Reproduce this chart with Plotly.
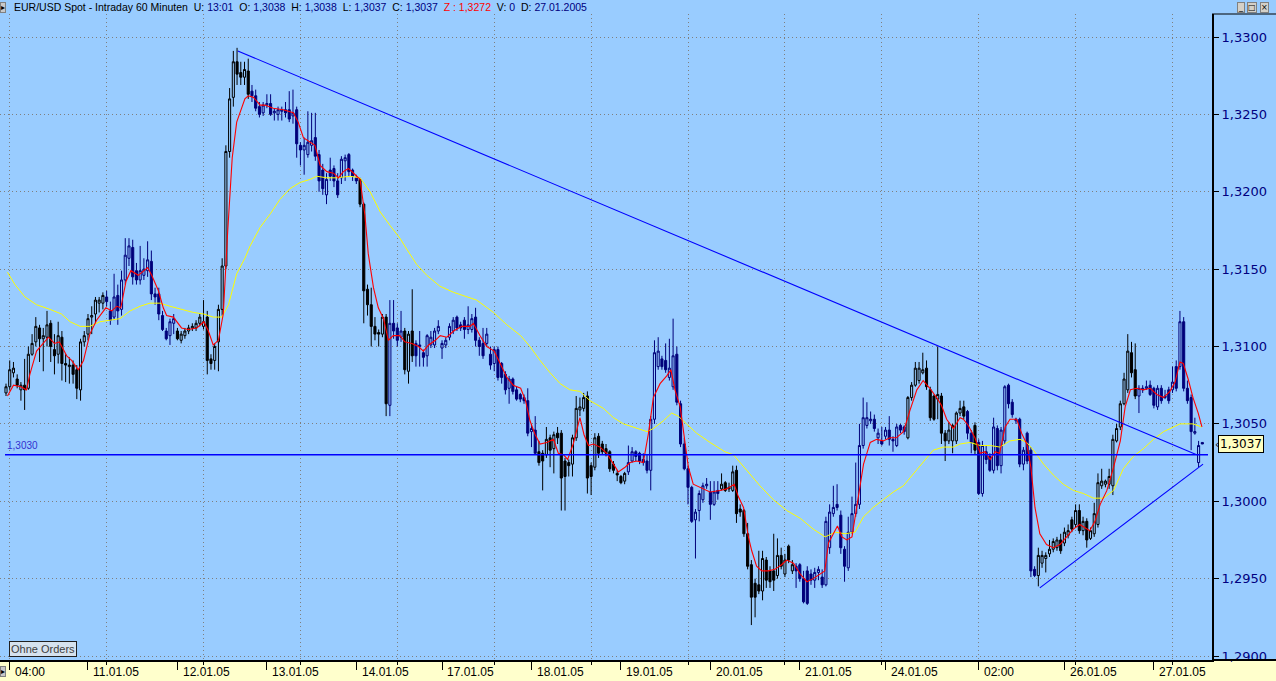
import plotly.graph_objects as go

# ---------------- DATA (prices in 1/10000, i.e. 13070 = 1.3070) ----------------
opens = [13070,13074,13083,13079,13072,13075,13073,13095,13103,13112,13105,13106,13115,13098,13095,13106,13089,13087,13088,13085,
13072,13103,13108,13119,13121,13128,13128,13132,13123,13119,13133,13124,13143,13157,13164,13149,13143,13146,13149,13155,
13134,13134,13120,13110,13107,13115,13110,13104,13107,13110,13112,13112,13115,13113,13119,13092,13091,13103,13124,13152,
13226,13261,13284,13277,13274,13278,13265,13262,13255,13251,13256,13257,13251,13250,13252,13253,13253,13249,13253,13230,
13227,13224,13230,13235,13224,13214,13198,13214,13215,13207,13209,13220,13224,13214,13209,13208,13192,13137,13127,13113,
13109,13108,13119,13062,13115,13112,13106,13110,13084,13110,13102,13100,13096,13094,13101,13101,13110,13099,13101,13106,
13110,13119,13114,13117,13111,13111,13119,13104,13102,13102,13095,13089,13098,13089,13082,13073,13079,13072,13069,13067,
13065,13045,13046,13032,13031,13030,13041,13034,13044,13044,13026,13025,13024,13041,13059,13060,13068,13023,13022,13042,
13037,13034,13032,13024,13018,13016,13013,13019,13026,13032,13031,13027,13026,13020,13053,13087,13092,13091,13080,13074,
13095,13063,13037,13021,13009,12988,12994,13001,13010,13006,12998,13007,13008,13012,13008,13007,13020,12995,12994,12979,
12959,12947,12946,12942,12962,12955,12955,12952,12965,12953,12971,12955,12958,12959,12950,12955,12953,12949,12954,12951,
12946,12970,12992,12998,12991,12969,12957,12980,12992,12998,13036,13049,13052,13053,13041,13039,13042,13046,13040,13036,
13049,13048,13041,13067,13075,13078,13083,13086,13072,13068,13066,13068,13044,13039,13039,13039,13057,13061,13058,13044,
13049,13038,13005,13032,13029,13020,13047,13023,13039,13075,13064,13052,13053,13024,13044,13033,12956,12952,12960,12963,
12966,12969,12970,12975,12973,12978,12988,12985,12994,12981,12987,12976,12979,12985,13010,13011,13011,13010,13039,13048,
13063,13072,13096,13085,13068,13072,13073,13075,13073,13061,13073,13067,13072,13072,13087,13087,13116,13073,13067,13044,
13025,13038]
highs = [13076,13091,13090,13082,13077,13092,13100,13108,13119,13114,13112,13123,13117,13108,13116,13110,13095,13093,13091,13088,
13105,13110,13121,13126,13132,13132,13135,13136,13129,13147,13140,13149,13170,13170,13169,13154,13165,13157,13168,13162,
13138,13138,13123,13112,13118,13121,13112,13110,13112,13114,13115,13117,13121,13130,13123,13095,13102,13127,13157,13230,
13267,13291,13293,13284,13284,13286,13269,13266,13258,13258,13263,13263,13254,13255,13255,13258,13265,13266,13255,13232,
13235,13252,13251,13251,13227,13218,13212,13222,13217,13212,13223,13224,13225,13215,13211,13209,13193,13140,13138,13119,
13111,13121,13121,13130,13130,13115,13123,13112,13110,13137,13104,13110,13098,13108,13110,13112,13117,13104,13106,13115,
13119,13120,13116,13119,13126,13121,13125,13106,13112,13112,13100,13100,13100,13090,13084,13081,13080,13074,13070,13069,
13073,13050,13055,13039,13033,13048,13043,13045,13048,13046,13028,13027,13043,13068,13067,13070,13071,13025,13044,13044,
13039,13037,13033,13026,13020,13017,13019,13036,13035,13033,13032,13031,13030,13055,13104,13106,13094,13102,13105,13118,
13100,13065,13041,13023,13010,12995,13007,13012,13015,13013,13013,13013,13018,13013,13012,13023,13023,12998,12995,12986,
12962,12950,12968,12968,12964,12958,12979,12976,12970,12966,12972,12962,12960,12960,12955,12958,12956,12957,12958,12956,
12990,12998,13010,13011,12994,12971,12990,13003,13025,13050,13067,13064,13058,13056,13047,13048,13048,13055,13042,13050,
13050,13049,13068,13077,13090,13090,13096,13091,13074,13069,13100,13070,13046,13051,13050,13058,13065,13065,13059,13046,
13051,13040,13039,13036,13031,13054,13049,13048,13075,13076,13066,13054,13054,13035,13045,13035,12958,12970,12968,12967,
12975,12976,12977,12979,12983,12985,12990,12998,12998,12990,12989,12983,12999,13018,13021,13014,13021,13043,13050,13065,
13083,13108,13103,13102,13075,13075,13078,13078,13074,13075,13075,13072,13074,13087,13091,13123,13119,13078,13069,13054,
13039,13038]
lows = [13068,13072,13080,13073,13065,13059,13072,13094,13100,13090,13084,13100,13090,13082,13089,13078,13077,13076,13076,13066,
13065,13100,13104,13108,13115,13122,13124,13126,13114,13117,13114,13120,13140,13152,13140,13140,13140,13143,13145,13130,
13127,13117,13110,13104,13101,13108,13104,13102,13105,13108,13110,13110,13113,13111,13082,13085,13085,13084,13120,13150,
13222,13255,13269,13269,13269,13260,13258,13252,13248,13249,13254,13249,13246,13246,13246,13248,13245,13244,13222,13217,
13211,13222,13226,13220,13200,13198,13192,13207,13203,13196,13205,13207,13210,13207,13205,13190,13115,13120,13100,13104,
13100,13106,13055,13055,13105,13100,13103,13082,13076,13090,13087,13087,13087,13087,13099,13099,13108,13092,13099,13104,
13108,13110,13110,13105,13108,13109,13100,13094,13092,13100,13085,13084,13078,13076,13069,13063,13069,13065,13064,13063,
13042,13035,13030,13023,13007,13028,13022,13018,13037,12994,12994,13016,13016,13039,13055,13058,13005,13004,13020,13028,
13030,13029,13019,13018,13013,13011,13011,13017,13025,13026,13024,13023,13018,13007,13050,13085,13085,13083,13078,13072,
13062,13035,13020,12998,12986,12963,12987,12999,13008,12988,12997,13001,13007,13006,13006,13006,12986,12990,12977,12956,
12920,12925,12940,12936,12944,12944,12942,12950,12956,12951,12960,12953,12944,12948,12934,12933,12946,12944,12949,12944,
12945,12966,12990,12994,12966,12948,12955,12979,12990,12995,13034,13047,13050,13045,13037,13036,13040,13036,13032,13035,
13044,13043,13040,13065,13074,13076,13082,13072,13052,13052,13053,13037,13026,13037,13031,13037,13055,13053,13040,13031,
13030,13004,13003,13024,13019,13018,13020,13018,13037,13060,13054,13050,13022,13020,13024,12951,12951,12945,12957,12954,
12964,12967,12968,12966,12971,12976,12980,12983,12979,12978,12970,12975,12977,12983,13008,13009,13008,13004,13038,13046,
13062,13070,13080,13066,13057,13070,13072,13068,13060,13059,13063,13066,13063,13070,13071,13085,13071,13063,13033,13043,
13022,13037]
closes = [13074,13085,13086,13075,13075,13072,13095,13102,13113,13105,13107,13114,13100,13094,13107,13089,13088,13088,13082,13073,
13103,13107,13118,13120,13130,13130,13133,13129,13117,13132,13123,13143,13159,13165,13145,13143,13149,13150,13156,13134,
13132,13121,13111,13105,13116,13118,13105,13108,13110,13112,13113,13115,13119,13116,13091,13089,13100,13124,13152,13226,
13260,13284,13276,13274,13279,13263,13262,13254,13250,13256,13257,13250,13252,13253,13253,13251,13247,13251,13231,13227,
13230,13232,13233,13223,13207,13202,13208,13210,13207,13198,13221,13222,13213,13210,13207,13192,13136,13127,13113,13108,
13108,13119,13063,13115,13110,13104,13110,13085,13108,13094,13094,13101,13093,13107,13106,13110,13113,13102,13104,13113,
13117,13112,13112,13111,13114,13118,13104,13100,13094,13108,13088,13098,13080,13080,13072,13079,13071,13066,13066,13065,
13044,13047,13031,13025,13026,13040,13033,13043,13041,13015,13016,13023,13041,13060,13061,13067,13015,13016,13041,13031,
13032,13031,13021,13020,13017,13012,13018,13025,13032,13029,13026,13025,13020,13053,13096,13097,13087,13085,13086,13094,
13064,13037,13021,13009,12987,12993,13005,13010,13011,12998,13006,13005,13011,13007,13009,13019,12992,12993,12979,12958,
12938,12938,12942,12963,12949,12948,12949,12965,12958,12962,12962,12959,12955,12950,12935,12934,12949,12954,12956,12946,
12987,12993,12996,12996,12970,12958,12980,12992,12998,13036,13054,13054,13053,13047,13044,13037,13046,13040,13039,13048,
13046,13045,13067,13075,13086,13086,13085,13074,13054,13053,13069,13044,13039,13046,13049,13057,13060,13055,13044,13038,
13033,13005,13036,13027,13020,13048,13023,13046,13074,13063,13056,13053,13024,13033,13026,12955,12952,12965,12965,12965,
12969,12974,12975,12968,12980,12981,12982,12994,12981,12987,12975,12981,12992,13012,13013,13013,13016,13040,13047,13063,
13079,13097,13083,13068,13073,13073,13074,13069,13062,13073,13065,13068,13065,13077,13073,13116,13073,13065,13045,13045,
13036,13037]

# candle colour runs: (first bar, last bar, colour code)
colour_runs = [(0, 26, "k"), (27, 45, "n"), (46, 65, "k"), (66, 94, "n"), (95, 102, "k"),
               (103, 106, "n"), (107, 109, "k"), (110, 142, "n"), (143, 166, "k"), (167, 191, "n"),
               (192, 211, "k"), (212, 241, "n"), (242, 257, "k"), (258, 259, "n"), (260, 260, "k"),
               (261, 276, "n"), (277, 303, "k"), (304, 321, "n")]

# short moving average (red)
red_x = [0.4,2,4,5.5,6.4,8.2,11.4,13,14.3,16.3,17.6,19.4,20.8,22.5,24.3,26.8,28.4,29.7,30.8,32.2,33.5,35.5,38,39.1,40.9,42.2,43.1,44.9,47.1,48.9,51.2,53.1,54.3,55.6,57,58.3,59.5,60.7,61.9,
 64.1,65,66.4,68.2,69.5,71.7,74.4,77.1,78.4,79.8,81.1,82.9,84.3,86.1,87.9,89.2,90.5,91.9,93.7,95,96.3,97.2,98.6,99.9,101.3,102.6,103.9,105.7,107,108.9,110.7,112,113.4,115.2,116.5,118.3,120.1,122.3,124.5,125.4,127.2,
 129,131,133,134.4,136.1,138.1,139.4,140.6,142,143.3,145.1,146.9,148.2,149.6,150.7,152.2,154,155.1,156.3,157.6,159.4,161.2,163,164.3,166.1,167.5,169.3,171,172.4,173.7,175.5,177.3,178.4,179.5,180.9,182,183.1,184.4,186.2,188.9,191.6,
 193.4,195.4,196.5,197.9,199.2,200.1,201.4,202.8,204.6,206.3,208.1,209.5,211.3,213.1,214.9,216.6,218.4,219.7,220.7,222.5,223.1,224.3,225.6,227,228.3,230.1,231.9,233.6,235.4,237.2,238.9,240.8,242.6,244.4,246.1,247.9,249.7,251,252.4,254.2,
 256,256.9,258.2,260,261.4,262.7,264.1,265.4,266.6,268.1,269.4,271.2,272.5,273.9,275,276.1,277.4,279.2,281,282.8,284.6,286.4,288.1,289.5,290.8,292.2,293.6,295.4,297.2,299,300.3,301.7,303.4,305.2,307,308.8,310.6,312.3,313.7,315,315.9,317.2,318.5,319.9,320.9]
red_y = [13068,13075,13074,13072,13082,13097,13106,13102,13103,13094,13091,13085,13091,13108,13117,13125,13123,13126,13125,13142,13149,13146,13151,13146,13136,13125,13120,13119,13112,13111,13112,13116,13110,13101,13104,13121,13175,13222,13245,
 13260,13262,13261,13256,13256,13254,13253,13251,13245,13235,13233,13230,13217,13213,13212,13209,13213,13215,13211,13208,13185,13160,13138,13125,13118,13104,13107,13107,13103,13102,13100,13097,13101,13104,13107,13106,13110,13113,13113,13115,13107,
 13100,13097,13087,13080,13075,13073,13065,13052,13043,13037,13038,13040,13031,13030,13027,13037,13054,13043,13036,13037,13035,13031,13024,13019,13022,13025,13026,13025,13044,13067,13076,13081,13085,13072,13061,13041,13022,13011,13009,13006,13007,
 13008,13011,13003,12996,12977,12968,12958,12955,12955,12956,12959,12962,12960,12953,12948,12950,12953,12955,12973,12981,12984,12977,12975,12977,12998,13024,13038,13040,13039,13041,13041,13045,13059,13072,13078,13073,13067,13062,13053,13047,
 13054,13053,13049,13041,13031,13032,13027,13032,13031,13048,13053,13053,13044,13037,13022,12996,12979,12972,12970,12972,12977,12982,12985,12983,12981,12987,12998,13007,13022,13039,13061,13072,13073,13072,13073,13069,13067,13071,13077,13090,13089,13079,13067,13057,13048]

# long moving average (yellow)
yel_x = [0.4,2.4,5.1,8.2,11.8,14.9,17.2,19.9,22.5,25.2,27.9,30.6,33.3,35.96,38.6,41.3,44,47.1,50.3,53,55.6,57.9,59.7,61.9,64.1,
 65.5,68.2,71,73.5,76.2,78.9,81.6,83.4,86.1,88.7,92.3,95,97.7,100.4,103.1,105.7,107.5,110.2,112.9,116.4,120.1,123.6,126.3,
 130.8,134.4,138.1,140.6,143.3,146,148.7,151.3,154,156.7,160.3,163,165.7,168.4,172,173.7,176.4,178.6,180.4,182.6,185.3,188.9,192.9,
 195.2,198.7,202.3,205.9,209.5,213.1,216.6,219.8,222.5,225.2,227.8,230.1,232.7,235.4,238.1,240.8,243.5,246.1,248.8,251.5,254.2,
 256,258.7,261.4,264.1,266.7,269.4,272.1,273.9,275.7,278.4,281,283.7,286.4,289.1,291.8,294.5,297.2,299.8,302.5,305.2,307.9,310.6,313.3,315,316.8,318.5,320.8]
yel_y = [13148,13140,13132,13127,13124,13121,13116,13113,13113,13116,13117,13118,13123,13126,13128,13128,13126,13124,13122,13121,13119,13119,13127,13147,13157,
 13165,13177,13186,13195,13202,13206,13208,13210,13209,13209,13210,13209,13200,13187,13178,13170,13163,13153,13146,13139,13135,13132,13130,
 13122,13114,13107,13100,13091,13083,13076,13072,13071,13065,13060,13054,13050,13048,13045,13047,13052,13057,13055,13050,13044,13038,13032,
 13030,13020,13010,13001,12994,12989,12982,12977,12980,12979,12980,12990,12996,13001,13006,13010,13018,13025,13033,13035,13035,
 13037,13038,13036,13036,13035,13039,13040,13038,13033,13024,13017,13011,13007,13005,13002,13002,13007,13021,13029,13034,13040,13045,13048,13050,13050,13050,13048]

# drawn trend lines (bar index, price) and horizontal level
trend_down_x = [62.2, 319.5]
trend_down_y = [13291, 13030]
trend_up_x = [277.4, 321.2]
trend_up_y = [12944, 13024]
level_price = 1.3030
last_price = 1.3037

# x axis: day ticks and grid
day_ticks = [1, 22, 46, 70, 94, 117, 141, 165, 189, 213, 236, 261, 284, 308]
day_labels = ["04:00", "11.01.05", "12.01.05", "13.01.05", "14.01.05", "17.01.05", "18.01.05",
              "19.01.05", "20.01.05", "21.01.05", "24.01.05", "02:00", "26.01.05", "27.01.05"]
grid_ticks = [1, 27, 53, 79, 105, 131, 157, 183, 209, 235, 261, 287, 313]
price_ticks = [1.29, 1.295, 1.30, 1.305, 1.31, 1.315, 1.32, 1.325, 1.33]

# ---------------- STYLE ----------------
BG = "#99CCFF"
NAVY = "#000080"
COLS = {"k": "#000000", "n": "#00007A"}
W, H = 1276, 681
L, R, T, B = 0, 64, 14, 21
PW, PH = W - L - R, H - T - B

def px_x(px):
    return (px - L) / PW

def px_y(py):
    return 1 - (py - T) / PH

fig = go.Figure()

for code in ("k", "n"):
    idx = [i for (a, b, cc) in colour_runs if cc == code for i in range(a, b + 1)]
    col = COLS[code]
    fig.add_trace(go.Candlestick(
        x=idx,
        open=[opens[i] / 1e4 for i in idx],
        high=[highs[i] / 1e4 for i in idx],
        low=[lows[i] / 1e4 for i in idx],
        close=[closes[i] / 1e4 for i in idx],
        increasing=dict(line=dict(color=col, width=1), fillcolor=BG),
        decreasing=dict(line=dict(color=col, width=1), fillcolor=col),
        whiskerwidth=0, showlegend=False, hoverinfo="skip"))

fig.add_trace(go.Scatter(x=yel_x, y=[v / 1e4 for v in yel_y], mode="lines",
                         line=dict(color="#FFFF00", width=1), hoverinfo="skip", showlegend=False))
fig.add_trace(go.Scatter(x=red_x, y=[v / 1e4 for v in red_y], mode="lines",
                         line=dict(color="#FF0000", width=1.1), hoverinfo="skip", showlegend=False))
fig.add_trace(go.Scatter(x=trend_down_x, y=[v / 1e4 for v in trend_down_y], mode="lines",
                         line=dict(color="#0000FF", width=1.1), hoverinfo="skip", showlegend=False))
fig.add_trace(go.Scatter(x=trend_up_x, y=[v / 1e4 for v in trend_up_y], mode="lines",
                         line=dict(color="#0000FF", width=1.1), hoverinfo="skip", showlegend=False))
# invisible helper for the overlaid day-tick axis
fig.add_trace(go.Scatter(x=[day_ticks[0]], y=[level_price], xaxis="x2", mode="markers",
                         marker=dict(opacity=0), hoverinfo="skip", showlegend=False))

GRID = dict(showgrid=True, gridcolor="#7F7F7F", gridwidth=1, griddash="1px,3px")

fig.update_layout(
    width=W, height=H, margin=dict(l=L, r=R, t=T, b=B),
    paper_bgcolor=BG, plot_bgcolor=BG, showlegend=False, hovermode=False,
    separators=",.", boxgap=0.2,
    xaxis=dict(range=[-1.61, 323.6], rangeslider=dict(visible=False),
               tickmode="array", tickvals=grid_ticks, ticks="outside", ticklen=3,
               tickcolor="black", showticklabels=False, zeroline=False,
               showline=True, linecolor="black", linewidth=2, **GRID),
    xaxis2=dict(overlaying="x", matches="x", anchor="y", side="bottom",
                tickmode="array", tickvals=day_ticks, ticks="outside", ticklen=9,
                tickcolor="black", showticklabels=False, showgrid=False,
                zeroline=False, showline=False),
    yaxis=dict(side="right", range=[1.289742, 1.331486], tickmode="array",
               tickvals=price_ticks, tickformat=".4f", ticks="outside", ticklen=5,
               tickcolor="black", tickfont=dict(family="DejaVu Sans", size=13, color=NAVY),
               zeroline=False, showline=True, linecolor="black", linewidth=2, **GRID),
)

shapes = [
    dict(type="rect", xref="paper", yref="paper", x0=-0.01, x1=W / PW + 0.01,
         y0=-(B + 2) / PH, y1=0, fillcolor="#FFFFCC", line=dict(width=0), layer="below"),
    dict(type="line", xref="paper", yref="paper", x0=1, x1=W / PW + 0.01, y0=0, y1=0,
         line=dict(color="black", width=2)),
    dict(type="line", xref="paper", yref="paper", x0=1, x1=W / PW + 0.01, y0=1, y1=1,
         line=dict(color="black", width=1)),
    dict(type="line", xref="paper", yref="y", x0=px_x(5), x1=px_x(1208),
         y0=level_price, y1=level_price, line=dict(color="#0000FF", width=1.5)),
]
fig.update_layout(shapes=shapes)

ann = []
# day labels on the time axis
for pos, lab in zip(day_ticks, day_labels):
    ann.append(dict(x=pos + 0.9, xref="x", y=px_y(672), yref="paper", text=lab,
                    showarrow=False, xanchor="left", yanchor="middle",
                    font=dict(family="Liberation Sans", size=12, color="black")))

S = "\u00a0"
def v(t):
    return f"<span style='color:{NAVY}'>{t}</span>"
title = ("EUR/USD Spot - Intraday 60 Minuten" + S + S + "U: " + v("13:01") + S + S +
         "O: " + v("1,3038") + S + S + "H: " + v("1,3038") + S + S + "L: " + v("1,3037") + S + S +
         "C: " + v("1,3037") + S + S + "<span style='color:#FF0000'>Z : 1,3272</span>" + S + S +
         "V: " + v("0") + S + S + "D: " + v("27.01.2005"))
ann.append(dict(x=px_x(12), xref="paper", y=px_y(7), yref="paper", text=title,
                showarrow=False, xanchor="left", yanchor="middle",
                font=dict(family="Liberation Sans", size=10.5, color="black")))
# small grey buttons
for (bx, by, t) in [(0, 8, "\u25B8"), (0, 671, "\u25B8")]:
    ann.append(dict(x=px_x(bx), xref="paper", y=px_y(by), yref="paper", text=t,
                    showarrow=False, xanchor="left", yanchor="middle",
                    bgcolor="#C8C8C8", bordercolor="#808080", borderwidth=1, borderpad=0,
                    font=dict(family="DejaVu Sans", size=8, color="black")))
for (bx, t) in [(1241, "_"), (1252, "\u25A1"), (1264, "\u00D7")]:
    ann.append(dict(x=px_x(bx), xref="paper", y=px_y(8), yref="paper", text=t,
                    showarrow=False, xanchor="center", yanchor="middle",
                    bgcolor="#D4D0C8", bordercolor="#808080", borderwidth=1, borderpad=0,
                    font=dict(family="DejaVu Sans", size=8, color="black")))
# level label
ann.append(dict(x=px_x(5), xref="paper", y=level_price, yref="y", text="1,3030",
                showarrow=False, xanchor="left", yanchor="bottom", yshift=2,
                font=dict(family="Liberation Sans", size=10, color="#3030D0")))
# last price tag
ann.append(dict(x=px_x(1218), xref="paper", y=last_price, yref="y", text="1,3037",
                showarrow=False, xanchor="left", yanchor="middle",
                bgcolor="#FFFFC0", bordercolor="black", borderwidth=1, borderpad=1,
                font=dict(family="DejaVu Sans", size=12, color="black")))
ann.append(dict(x=px_x(1213), xref="paper", y=last_price, yref="y", text="\u2039",
                showarrow=False, xanchor="left", yanchor="middle",
                font=dict(family="DejaVu Sans", size=10, color="black")))
# "Ohne Orders" box
ann.append(dict(x=px_x(9), xref="paper", y=px_y(649), yref="paper", text="Ohne Orders",
                showarrow=False, xanchor="left", yanchor="middle",
                bgcolor="#D6E2EE", bordercolor="#202020", borderwidth=1, borderpad=1,
                font=dict(family="Liberation Sans", size=11, color="#404040")))
fig.update_layout(annotations=ann)

fig.write_html("out.html", config={"displayModeBar": False},
               post_script="document.body.style.margin='0px';document.body.style.overflow='hidden';")
